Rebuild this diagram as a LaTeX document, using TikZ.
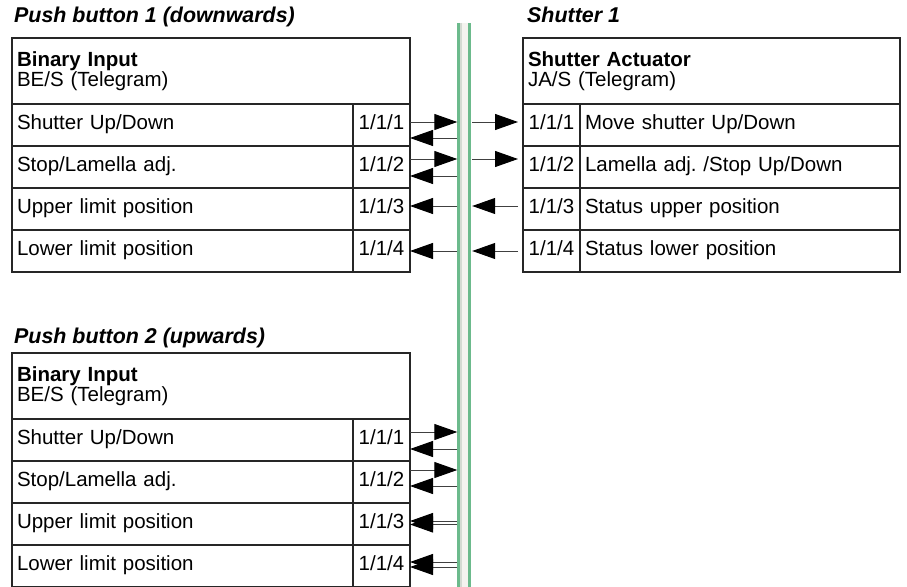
\documentclass[tikz,border=0pt]{standalone}
\usepackage{fontspec}
\setmainfont{Liberation Sans}
\usepackage{tikz}
\usetikzlibrary{positioning}
\usetikzlibrary{arrows.meta}
\definecolor{busgreen}{RGB}{108,186,140}
\definecolor{busfill}{RGB}{244,243,239}
\definecolor{busstripe}{RGB}{212,218,210}
\newcommand{\pbfont}{\fontsize{20.5}{20}\selectfont}
\newcommand{\pbtitlefont}{\fontsize{21.4}{22}\selectfont\bfseries\itshape}
\frenchspacing

\tikzset{
  cell/.style={draw=black!85, line width=2pt, outer sep=0pt, inner ysep=0pt, inner xsep=5pt,
    minimum height=42pt, text height=14pt, text depth=5pt, font=\pbfont},
  namecell/.style={cell, text width=#1, align=left},
  addrcell/.style={cell, inner xsep=0pt, minimum width=57pt},
  headcell/.style={draw=black!85, line width=2pt, outer sep=0pt, inner ysep=0pt, inner xsep=5pt,
    anchor=north west, minimum height=66pt, text width=#1, align=left, font=\pbfont},
  title/.style={anchor=base west, inner sep=0pt, font=\pbtitlefont},
  sig/.style={draw=black!75, line width=1pt, -{Triangle[length=23pt,width=16pt,color=black]}},
  busline/.style={draw=busgreen, line width=2.5pt}
}

\begin{document}
\begin{tikzpicture}[x=1pt, y=-1pt]
  \path[use as bounding box] (0,0) rectangle (907,586);
  \clip (0,0) rectangle (907,586);

  % bus line
  \node[fill=busfill, inner sep=0pt, minimum width=13pt, minimum height=600pt, anchor=north] (bus) at (464,23) {};
  \draw[busline] ([xshift=1.25pt]bus.north west) -- ([xshift=1.25pt]bus.south west);
  \draw[busline] ([xshift=-1.25pt]bus.north east) -- ([xshift=-1.25pt]bus.south east);
  \draw[busstripe, line width=2pt] ([xshift=3.5pt]bus.north west) -- ([xshift=3.5pt]bus.south west);

  % push button 1
  \node[title] (pb1-title) at (14,23) {Push button 1 (downwards)};
  \node[headcell=388pt] (pb1-head) at (12,38) {\textbf{Binary Input}\\BE/S (Telegram)};
  \node[namecell=331pt, below right=0pt of pb1-head.south west] (pb1-n1) {Shutter Up/Down};
  \node[namecell=331pt, below=0pt of pb1-n1] (pb1-n2) {Stop/Lamella adj.};
  \node[namecell=331pt, below=0pt of pb1-n2] (pb1-n3) {Upper limit position};
  \node[namecell=331pt, below=0pt of pb1-n3] (pb1-n4) {Lower limit position};
  \node[addrcell, right=0pt of pb1-n1] (pb1-a1) {1/1/1};
  \node[addrcell, right=0pt of pb1-n2] (pb1-a2) {1/1/2};
  \node[addrcell, right=0pt of pb1-n3] (pb1-a3) {1/1/3};
  \node[addrcell, right=0pt of pb1-n4] (pb1-a4) {1/1/4};

  % shutter 1
  \node[title] (sh1-title) at (527,23) {Shutter 1};
  \node[headcell=367pt] (sh1-head) at (523,38) {\textbf{Shutter Actuator}\\JA/S (Telegram)};
  \node[addrcell, below right=0pt of sh1-head.south west] (sh1-a1) {1/1/1};
  \node[addrcell, below=0pt of sh1-a1] (sh1-a2) {1/1/2};
  \node[addrcell, below=0pt of sh1-a2] (sh1-a3) {1/1/3};
  \node[addrcell, below=0pt of sh1-a3] (sh1-a4) {1/1/4};
  \node[namecell=310pt, right=0pt of sh1-a1] (sh1-n1) {Move shutter Up/Down};
  \node[namecell=310pt, right=0pt of sh1-a2] (sh1-n2) {Lamella adj. /Stop Up/Down};
  \node[namecell=310pt, right=0pt of sh1-a3] (sh1-n3) {Status upper position};
  \node[namecell=310pt, right=0pt of sh1-a4] (sh1-n4) {Status lower position};

  % push button 2
  \node[title] (pb2-title) at (14,343) {Push button 2 (upwards)};
  \node[headcell=388pt] (pb2-head) at (12,353) {\textbf{Binary Input}\\BE/S (Telegram)};
  \node[namecell=331pt, below right=0pt of pb2-head.south west] (pb2-n1) {Shutter Up/Down};
  \node[namecell=331pt, below=0pt of pb2-n1] (pb2-n2) {Stop/Lamella adj.};
  \node[namecell=331pt, below=0pt of pb2-n2] (pb2-n3) {Upper limit position};
  \node[namecell=331pt, below=0pt of pb2-n3] (pb2-n4) {Lower limit position};
  \node[addrcell, right=0pt of pb2-n1] (pb2-a1) {1/1/1};
  \node[addrcell, right=0pt of pb2-n2] (pb2-a2) {1/1/2};
  \node[addrcell, right=0pt of pb2-n3] (pb2-a3) {1/1/3};
  \node[addrcell, right=0pt of pb2-n4] (pb2-a4) {1/1/4};

  % telegrams push button 1 <-> bus
  \draw[sig] ([yshift=3pt]pb1-a1.east) -- ([yshift=3pt]pb1-a1.east -| bus.west);
  \draw[sig] ([yshift=-13pt]pb1-a1.east -| bus.west) -- ([yshift=-13pt]pb1-a1.east);
  \draw[sig] ([yshift=8pt]pb1-a2.east) -- ([yshift=8pt]pb1-a2.east -| bus.west);
  \draw[sig] ([yshift=-9pt]pb1-a2.east -| bus.west) -- ([yshift=-9pt]pb1-a2.east);
  \draw[sig] ([yshift=3pt]pb1-a3.east -| bus.west) -- ([yshift=3pt]pb1-a3.east);
  \draw[sig] (pb1-a4.east -| bus.west) -- (pb1-a4.east);

  % telegrams bus <-> shutter 1
  \draw[sig, shorten <=1.5pt, shorten >=5pt] ([yshift=3pt]sh1-a1.west -| bus.east) -- ([yshift=3pt]sh1-a1.west);
  \draw[sig, shorten <=1.5pt, shorten >=5pt] ([yshift=8pt]sh1-a2.west -| bus.east) -- ([yshift=8pt]sh1-a2.west);
  \draw[sig, shorten <=5pt, shorten >=1.5pt] ([yshift=3pt]sh1-a3.west) -- ([yshift=3pt]sh1-a3.west -| bus.east);
  \draw[sig, shorten <=5pt, shorten >=1.5pt] (sh1-a4.west) -- (sh1-a4.west -| bus.east);

  % telegrams push button 2 <-> bus
  \draw[sig] ([yshift=8pt]pb2-a1.east) -- ([yshift=8pt]pb2-a1.east -| bus.west);
  \draw[sig] ([yshift=-9pt]pb2-a1.east -| bus.west) -- ([yshift=-9pt]pb2-a1.east);
  \draw[sig] ([yshift=12pt]pb2-a2.east) -- ([yshift=12pt]pb2-a2.east -| bus.west);
  \draw[sig] ([yshift=-4pt]pb2-a2.east -| bus.west) -- ([yshift=-4pt]pb2-a2.east);
  \draw[sig] ([yshift=3pt]pb2-a3.east -| bus.west) -- ([yshift=3pt]pb2-a3.east);
  \draw[sig] ([yshift=-0.5pt]pb2-a3.east -| bus.west) -- ([yshift=-0.5pt]pb2-a3.east);
  \draw[sig] ([yshift=4pt]pb2-a4.east -| bus.west) -- ([yshift=4pt]pb2-a4.east);
  \draw[sig] ([yshift=-1pt]pb2-a4.east -| bus.west) -- ([yshift=-1pt]pb2-a4.east);
\end{tikzpicture}
\end{document}
